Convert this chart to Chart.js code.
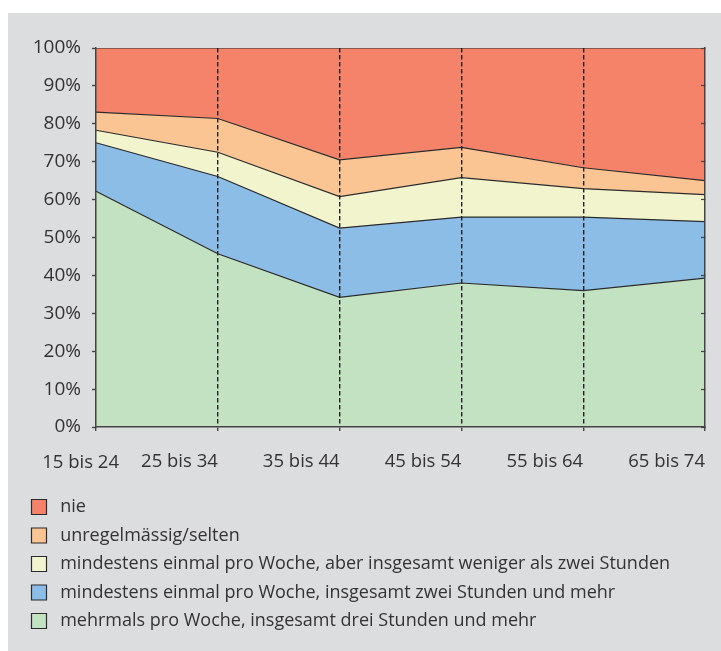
<!DOCTYPE html>
<html>
<head>
<meta charset="utf-8">
<script src="https://cdn.jsdelivr.net/npm/chart.js@4.4.1/dist/chart.umd.min.js"></script>
<style>
  html, body { margin: 0; padding: 0; background: #fff; }
  #panel { position: absolute; left: 8px; top: 13px; width: 713px; height: 638px; background: #dcdddf; }
  #chart { display: block; }
</style>
</head>
<body>
<div id="panel"><canvas id="chart" width="713" height="638"></canvas></div>
<script>
// age groups on the x axis
var ageGroups = ['15 bis 24', '25 bis 34', '35 bis 44', '45 bis 54', '55 bis 64', '65 bis 74'];

// shares in percent, bottom layer first
var mehrmals    = [62.2, 45.7, 34.2, 38.0, 36.0, 39.3];
var zweiStunden = [12.8, 20.4, 18.3, 17.4, 19.4, 14.9];
var wenigerZwei = [3.3, 6.4, 8.3, 10.4, 7.5, 7.1];
var selten      = [4.8, 8.9, 9.7, 8.0, 5.5, 3.7];
var nie         = [16.9, 18.6, 29.5, 26.2, 31.6, 35.0];

var textColor = '#333';
var lineColor = '#2b2b2b';
var axisColor = '#444';

Chart.defaults.font.family = "'Open Sans', sans-serif";
Chart.defaults.color = textColor;

function area(label, values, color, fill) {
  return {
    label: label,
    data: values,
    backgroundColor: color,
    borderColor: lineColor,
    borderWidth: 1.2,
    pointRadius: 0,
    tension: 0,
    fill: fill
  };
}

function noPadding(s) {
  s.paddingLeft = 0;
  s.paddingRight = 0;
}

new Chart(document.getElementById('chart'), {
  type: 'line',
  data: {
    labels: ageGroups,
    datasets: [
      area('mehrmals pro Woche, insgesamt drei Stunden und mehr', mehrmals, '#c3e2c1', 'origin'),
      area('mindestens einmal pro Woche, insgesamt zwei Stunden und mehr', zweiStunden, '#8bbde6', '-1'),
      area('mindestens einmal pro Woche, aber insgesamt weniger als zwei Stunden', wenigerZwei, '#f2f4cd', '-1'),
      area('unregelmässig/selten', selten, '#fbc493', '-1'),
      area('nie', nie, '#f4836a', '-1')
    ]
  },
  options: {
    responsive: false,
    animation: false,
    layout: { padding: { left: 13, top: 35, right: 16, bottom: 11 } },
    scales: {
      x: {
        type: 'category',
        offset: false,
        grid: {
          z: 1,
          color: function(ctx) {
            return (ctx.index > 0 && ctx.index < ageGroups.length - 1) ? '#222' : 'rgba(0,0,0,0)';
          },
          lineWidth: 1.4,
          tickColor: axisColor,
          tickWidth: 1.4,
          tickLength: 4,
          tickBorderDash: []
        },
        border: { display: true, z: 1, color: axisColor, width: 1.5, dash: [4.5, 2.5] },
        ticks: {
          align: 'end',
          autoSkip: false,
          maxRotation: 0,
          padding: 20,
          font: { size: 18.5 },
          callback: function(v, i) { return i === 0 ? '' : this.getLabelForValue(v); }
        },
        afterFit: function(s) { s.height = 60.5; noPadding(s); }
      },
      xFirst: {
        type: 'category',
        position: { y: 0 },
        grid: { display: false },
        border: { display: false },
        ticks: {
          align: 'end',
          labelOffset: 23,
          autoSkip: false,
          maxRotation: 0,
          padding: 17,
          font: { size: 18.5 },
          callback: function(v, i) { return i === 0 ? this.getLabelForValue(v) : ''; }
        },
        afterFit: noPadding
      },
      y: {
        stacked: true,
        min: 0,
        max: 100,
        grid: { z: 1, drawOnChartArea: false, tickLength: 4, tickColor: axisColor, tickWidth: 1.4 },
        border: { z: 1, color: axisColor, width: 1.5 },
        ticks: {
          stepSize: 10,
          padding: 11,
          font: { size: 19 },
          callback: function(v) { return v + '%'; }
        },
        afterFit: function(s) { s.width = 75; }
      },
      y2: {
        position: 'right',
        min: 0,
        max: 100,
        grid: { z: 1, drawOnChartArea: false, tickLength: -4, tickColor: axisColor, tickWidth: 1.2 },
        border: { display: true, z: 1, color: axisColor, width: 1.5 },
        ticks: { display: false, stepSize: 10 },
        afterFit: function(s) { s.width = 0; }
      }
    },
    plugins: {
      tooltip: { enabled: false },
      legend: {
        position: 'bottom',
        align: 'start',
        reverse: true,
        labels: {
          boxWidth: 15,
          boxHeight: 15,
          padding: 10.5,
          font: { size: 18 },
          generateLabels: function(chart) {
            return Chart.defaults.plugins.legend.labels.generateLabels(chart).map(function(item) {
              item.text = '\u00A0' + item.text + '\u00A0'.repeat(90);
              return item;
            });
          }
        }
      }
    }
  }
});
</script>
</body>
</html>
